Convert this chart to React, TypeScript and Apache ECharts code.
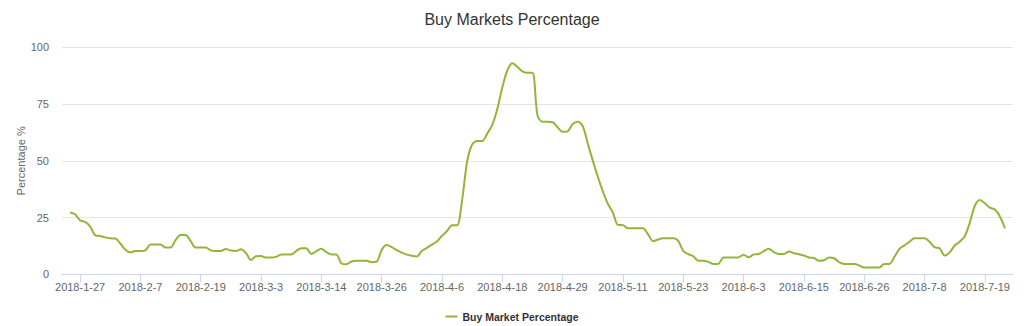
import React, { useEffect, useRef } from "react";
import * as echarts from "echarts";

const chartTitle = "Buy Markets Percentage";
const seriesName = "Buy Market Percentage";
const yAxisTitle = "Percentage %";

// tick labels, one every 12 samples starting at sample index 2
const tickLabels = [
  "2018-1-27", "2018-2-7", "2018-2-19", "2018-3-3", "2018-3-14", "2018-3-26",
  "2018-4-6", "2018-4-18", "2018-4-29", "2018-5-11", "2018-5-23", "2018-6-3",
  "2018-6-15", "2018-6-26", "2018-7-8", "2018-7-19",
];
const firstTickIndex = 2;
const samplesPerTick = 12;

// buy market percentage, one value per sample
const buyMarketPct = [
  27.3, 26.5, 23.8, 23.1, 21.1, 17.2, 16.9, 16.3, 15.9, 15.8,
  13.6, 10.9, 9.7, 10.3, 10.3, 10.6, 13.2, 13.2, 13.2, 11.8,
  11.8, 15.1, 17.3, 17.3, 14.6, 11.8, 11.8, 11.8, 10.6, 10.3,
  10.3, 11.2, 10.5, 10.3, 11.1, 9.4, 6.4, 8.0, 8.1, 7.4,
  7.4, 7.7, 8.8, 8.8, 8.8, 10.3, 11.5, 11.5, 9.0, 10.2,
  11.3, 9.8, 8.8, 8.8, 4.8, 4.5, 5.7, 6.0, 6.0, 6.0,
  5.4, 5.6, 10.8, 12.9, 12.0, 10.7, 9.6, 8.7, 8.2, 7.9,
  10.4, 11.7, 13.1, 14.5, 17.0, 19.1, 21.6, 21.6, 32.7, 49.7,
  57.2, 58.7, 58.7, 62.0, 65.8, 72.8, 82.3, 89.8, 93.0, 91.4,
  89.4, 88.8, 88.8, 70.0, 67.2, 67.2, 67.0, 64.8, 62.8, 63.0,
  66.2, 67.2, 65.3, 57.6, 50.1, 43.0, 36.6, 31.1, 27.2, 21.8,
  21.7, 20.3, 20.3, 20.3, 20.3, 17.6, 14.6, 15.4, 15.9, 15.9,
  15.9, 14.8, 10.3, 8.9, 8.0, 6.0, 6.0, 5.5, 4.6, 4.7,
  7.4, 7.4, 7.4, 7.5, 8.7, 7.5, 8.8, 9.0, 10.2, 11.3,
  9.8, 9.0, 9.0, 10.1, 9.3, 8.9, 8.3, 7.4, 7.2, 6.0,
  6.2, 7.4, 7.1, 5.4, 4.6, 4.6, 4.6, 4.0, 3.0, 3.0,
  3.0, 3.0, 4.6, 4.6, 7.7, 11.2, 12.8, 14.4, 15.9, 15.9,
  15.9, 14.4, 12.0, 11.5, 8.3, 9.7, 12.7, 14.4, 16.8, 22.7,
  30.2, 32.8, 31.3, 29.4, 28.6, 25.5, 20.3,
];

const yTicks = { min: 0, max: 100, interval: 25 };

const FONT = '"Liberation Sans", Arial, Helvetica, sans-serif';

export default function App() {
  const ref = useRef<HTMLDivElement>(null);

  useEffect(() => {
    if (!ref.current) return;
    const chart = echarts.init(ref.current, undefined, { renderer: "svg" });

    const tickValues = tickLabels.map((_, k) => firstTickIndex + k * samplesPerTick);
    const data = buyMarketPct.map((v, i) => [i, v]);

    chart.setOption({
      animation: false,
      backgroundColor: "#ffffff",
      textStyle: { fontFamily: FONT },
      title: {
        text: chartTitle,
        left: "center",
        top: 6,
        textStyle: { fontSize: 16, fontWeight: "normal", color: "#333333", fontFamily: FONT },
      },
      legend: {
        bottom: -1,
        left: "center",
        icon: "rect",
        itemWidth: 12,
        itemHeight: 2,
        itemGap: 10,
        textStyle: { fontSize: 10.5, fontWeight: "bold", color: "#333333", fontFamily: FONT },
        data: [seriesName],
      },
      grid: { left: 62, right: 11, top: 47.3, bottom: 51.6, containLabel: false },
      xAxis: {
        type: "value",
        min: -1.6,
        max: 187.6,
        axisLine: { show: true, lineStyle: { color: "#ccd6eb", width: 1 } },
        axisTick: { show: true, length: 8, lineStyle: { color: "#ccd6eb" }, customValues: tickValues },
        axisLabel: {
          customValues: tickValues,
          margin: 7,
          fontSize: 11,
          color: "#666666",
          fontFamily: FONT,
          formatter: (v: number) => {
            const k = Math.round((v - firstTickIndex) / samplesPerTick);
            return tickLabels[k] ?? "";
          },
        },
        splitLine: { show: false },
      },
      yAxis: {
        type: "value",
        min: yTicks.min,
        max: yTicks.max,
        interval: yTicks.interval,
        name: yAxisTitle,
        nameLocation: "middle",
        nameGap: 36,
        nameRotate: 90,
        nameMoveOverlap: false,
        nameTextStyle: { fontSize: 11, color: "#666666", fontFamily: FONT },
        axisLine: { show: false },
        axisTick: { show: false },
        axisLabel: { margin: 13, fontSize: 11, color: "#666666", fontFamily: FONT },
        splitLine: { lineStyle: { color: "#e6e6e6", width: 1 } },
      },
      series: [
        {
          name: seriesName,
          type: "line",
          data,
          smooth: 0.3,
          showSymbol: false,
          symbol: "none",
          itemStyle: { color: "#93b53a" },
          lineStyle: { color: "#93b53a", width: 2 },
        },
      ],
    });

    return () => chart.dispose();
  }, []);

  return (
    <div
      ref={ref}
      style={{ position: "fixed", left: 0, top: 0, width: 1024, height: 326, background: "#fff" }}
    />
  );
}
